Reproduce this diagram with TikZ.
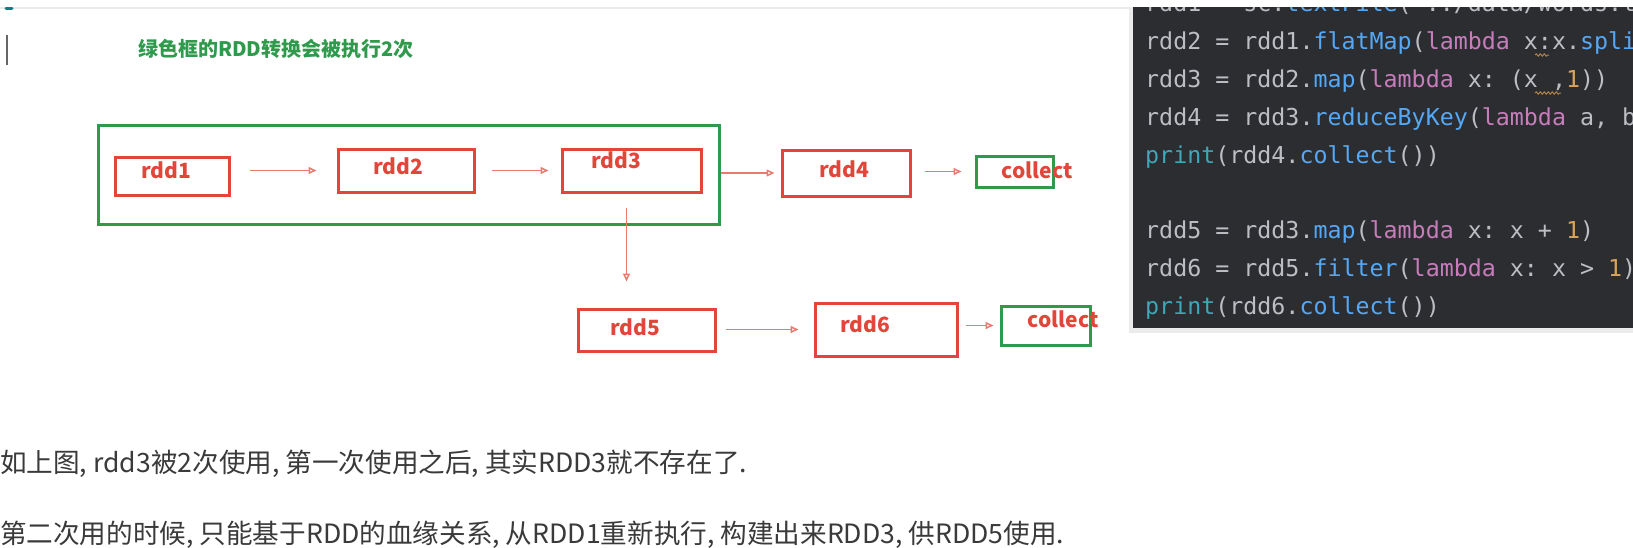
\documentclass[tikz,border=0pt]{standalone}
\usepackage{fontspec}
\setmainfont{Noto Sans CJK SC}
\setmonofont{DejaVu Sans Mono}
\usepackage{tikz}
\usetikzlibrary{arrows.meta}
\usetikzlibrary{decorations.pathmorphing}

\definecolor{boxred}{HTML}{E2463A}
\definecolor{boxgreen}{HTML}{2F9A4C}
\definecolor{flowred}{HTML}{EA7A70}
\definecolor{panelbg}{HTML}{2B2D31}
\definecolor{codefg}{HTML}{BCBEC4}
\definecolor{codefn}{HTML}{56A8F5}
\definecolor{codekw}{HTML}{C77DBB}
\definecolor{codenum}{HTML}{D9A35B}
\definecolor{codebi}{HTML}{3FA7B8}
\definecolor{notegray}{HTML}{3A3A3A}

\newcommand{\cfn}[1]{{\color{codefn}#1}}
\newcommand{\ckw}[1]{{\color{codekw}#1}}
\newcommand{\cnum}[1]{{\color{codenum}#1}}
\newcommand{\cbi}[1]{{\color{codebi}#1}}

\tikzset{
  rddbox/.style={draw=boxred, line width=3pt, inner sep=0pt},
  outbox/.style={draw=boxgreen, line width=3pt, inner sep=0pt},
  rddlbl/.style={text=boxred, inner sep=0pt,
    font=\fontsize{21}{24}\selectfont\bfseries},
  flow/.style={draw=flowred, line width=1.5pt,
    -{Triangle[open, length=8pt, width=7pt]}},
  codeln/.style={anchor=base west, inner sep=0pt, text=codefg,
    font=\ttfamily\fontsize{23.3}{28}\selectfont},
  note/.style={anchor=west, inner sep=0pt, text=notegray,
    font=\fontsize{26.6}{30}\selectfont},
  squiggle/.style={draw=codenum!80!black, line width=1pt,
    decorate, decoration={snake, amplitude=1.2pt, segment length=4pt}}
}

\begin{document}
\begin{tikzpicture}[x=1pt, y=-1pt]

\useasboundingbox (0,0) rectangle (1633,547);
\fill[white] (0,0) rectangle (1633,547);

% editor bits at the top
\draw[line width=1.5pt, black!8] (0,8) -- (1133,8);
\draw[line width=3pt, line cap=round, teal] (6,8) -- (12,8);
\draw[line width=2.5pt, black!60] (7,35) -- (7,65);

\node[anchor=west, inner sep=0pt, text=boxgreen,
  font=\fontsize{20}{24}\selectfont\bfseries]
  (title) at (138,49) {绿色框的RDD转换会被执行2次};

% first chain
\node[outbox, minimum width=621pt, minimum height=99pt] (grp) at (408.5,174.5) {};

\node[rddbox, minimum width=114pt, minimum height=38pt] (rdd1) at (172,176) {};
\node[rddbox, minimum width=136pt, minimum height=43pt] (rdd2) at (406,170.5) {};
\node[rddbox, minimum width=139pt, minimum height=43pt] (rdd3) at (631.5,170.5) {};
\node[rddbox, minimum width=128pt, minimum height=46pt] (rdd4) at (846,173) {};
\node[outbox, minimum width=77pt, minimum height=31pt] (out1) at (1014.5,171.5) {};

\node[rddlbl] (l1) at (166,170) {rdd1};
\node[rddlbl] (l2) at (398,166) {rdd2};
\node[rddlbl] (l3) at (616,160) {rdd3};
\node[rddlbl] (l4) at (844,169) {rdd4};
\node[rddlbl] (l5) at (1037,170) {collect};

\draw[flow, shorten <=19pt, shorten >=20pt] (rdd1.east |- rdd2.west) -- (rdd2.west);
\draw[flow, shorten <=16pt, shorten >=12pt] (rdd2.east |- rdd3.west) -- (rdd3.west);
\draw[flow, shorten >=6pt] (grp.east |- rdd4.west) -- (rdd4.west);
\draw[flow, shorten <=13pt, shorten >=13pt] (rdd4.east |- out1.west) -- (out1.west);

% second chain
\node[rddbox, minimum width=137pt, minimum height=42pt] (rdd5) at (646.5,330) {};
\node[rddbox, minimum width=142pt, minimum height=53pt] (rdd6) at (886,329.5) {};
\node[outbox, minimum width=89pt, minimum height=39pt] (out2) at (1045.5,325.5) {};

\node[rddlbl] (l6) at (635,327) {rdd5};
\node[rddlbl] (l7) at (865,324) {rdd6};
\node[rddlbl] (l8) at (1063,319) {collect};

\draw[flow, shorten <=14pt, shorten >=26pt]
  ([xshift=-5pt]rdd3.south) -- ([xshift=-5pt]rdd3.south |- rdd5.north);
\draw[flow, shorten <=9pt, shorten >=15pt] (rdd5.east |- rdd6.west) -- (rdd6.west);
\draw[flow, shorten <=7pt, shorten >=6pt] (rdd6.east |- out2.west) -- (out2.west);

% code panel
\fill[black, opacity=.08] (1129,9) rectangle (1633,333);
\fill[panelbg] (1133,7) rectangle (1633,328);
\begin{scope}
\clip (1133,7) rectangle (1633,328);
\node[codeln] (c1) at (1145,11) {rdd1 = sc.\cfn{textFile}("../data/words.txt")};
\node[codeln] (c2) at (1145,49) {rdd2 = rdd1.\cfn{flatMap}(\ckw{lambda} x:x.\cfn{split}(" "))};
\node[codeln] (c3) at (1145,87) {rdd3 = rdd2.\cfn{map}(\ckw{lambda} x: (x ,\cnum{1}))};
\node[codeln] (c4) at (1145,125) {rdd4 = rdd3.\cfn{reduceByKey}(\ckw{lambda} a, b: a + b)};
\node[codeln] (c5) at (1145,163) {\cbi{print}(rdd4.\cfn{collect}())};
\node[codeln] (c7) at (1145,238) {rdd5 = rdd3.\cfn{map}(\ckw{lambda} x: x + \cnum{1})};
\node[codeln] (c8) at (1145,276) {rdd6 = rdd5.\cfn{filter}(\ckw{lambda} x: x > \cnum{1})};
\node[codeln] (c9) at (1145,314) {\cbi{print}(rdd6.\cfn{collect}())};
\draw[squiggle] (1535,55) -- (1549,55);
\draw[squiggle] (1535,93) -- (1561,93);
\end{scope}

% notes below
\node[note] (n1) at (0,464) {如上图, rdd3被2次使用, 第一次使用之后, 其实RDD3就不存在了.};
\node[note] (n2) at (0,535) {第二次用的时候, 只能基于RDD的血缘关系, 从RDD1重新执行, 构建出来RDD3, 供RDD5使用.};

\end{tikzpicture}
\end{document}
